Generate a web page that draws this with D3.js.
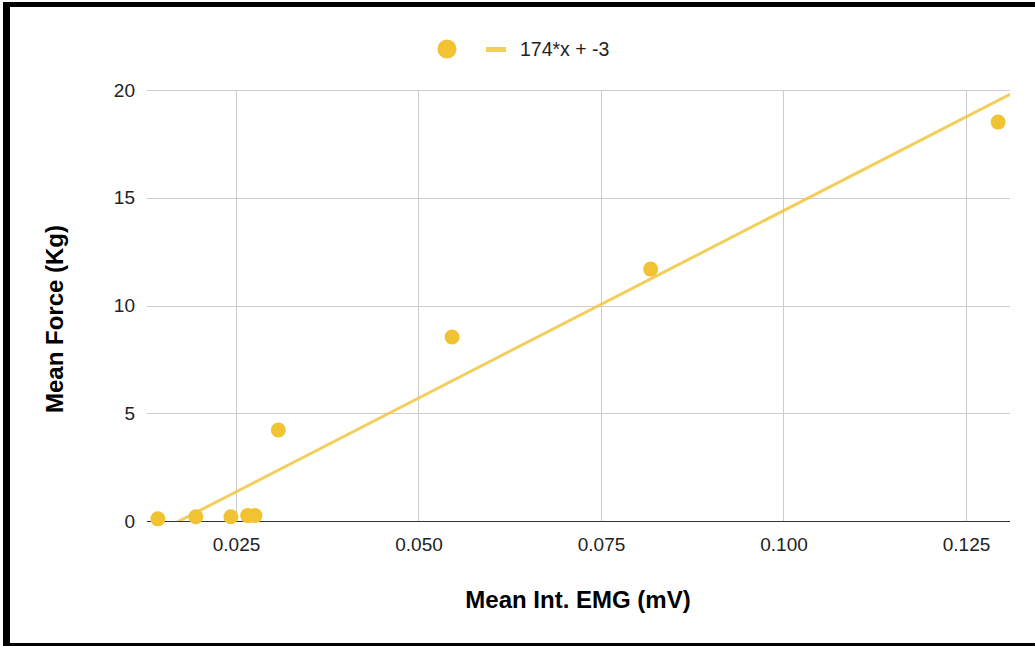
<!DOCTYPE html>
<html><head><meta charset="utf-8">
<script src="https://cdn.jsdelivr.net/npm/d3@7"></script>
<style>body{margin:0;background:#fff}svg{display:block;font-family:Arial,"Liberation Sans",sans-serif}</style>
</head><body><svg id="c" width="1035" height="646"></svg>
<script>
const emg = [0.0143, 0.0195, 0.0243, 0.0266, 0.0276, 0.0308, 0.0546, 0.0818, 0.1294];
const force = [0.1, 0.2, 0.2, 0.25, 0.25, 4.22, 8.54, 11.69, 18.51];
const xTicks = [0.025, 0.050, 0.075, 0.100, 0.125];
const yTicks = [0, 5, 10, 15, 20];
const slope = 174, intercept = -3;
const legendLabel = "174*x + -3";

const svg = d3.select("#c");
const L = 147, R = 1010, T = 90, B = 521;
const x = d3.scaleLinear().domain([0.01281, 0.13103]).range([L, R]);
const y = d3.scaleLinear().domain([0, 20]).range([B, T]);

// border
svg.append("rect").attr("x",3).attr("y",2).attr("width",1040).attr("height",5).attr("fill","#000");
svg.append("rect").attr("x",3).attr("y",2).attr("width",7).attr("height",644).attr("fill","#000");
svg.append("rect").attr("x",3).attr("y",643).attr("width",1040).attr("height",3).attr("fill","#000");

// grid
const g = svg.append("g");
g.selectAll(".hg").data(yTicks.filter(d=>d!==0)).join("line")
  .attr("x1",L).attr("x2",R).attr("y1",d=>Math.round(y(d))+0.5).attr("y2",d=>Math.round(y(d))+0.5)
  .attr("stroke","#cccccc").attr("stroke-width",1);
g.selectAll(".vg").data(xTicks).join("line")
  .attr("x1",d=>Math.round(x(d))+0.5).attr("x2",d=>Math.round(x(d))+0.5).attr("y1",T).attr("y2",B)
  .attr("stroke","#cccccc").attr("stroke-width",1);

const FF = "Arial,'Liberation Sans',sans-serif";
const yAxis = svg.append("g").attr("transform",`translate(${L},0)`)
  .call(d3.axisLeft(y).tickValues(yTicks).tickSize(0).tickPadding(12).tickFormat(d3.format("d")));
yAxis.select(".domain").remove();
yAxis.selectAll("text").attr("font-size",19).attr("fill","#222").attr("font-family",FF);

const xAxis = svg.append("g").attr("transform",`translate(0,${B})`)
  .call(d3.axisBottom(x).tickValues(xTicks).tickSize(0).tickPadding(17).tickFormat(d3.format(".3f")));
xAxis.select(".domain").remove();
xAxis.selectAll("text").attr("font-size",19).attr("fill","#222").attr("font-family",FF);

// baseline
svg.append("line").attr("x1",L).attr("x2",R).attr("y1",y(0)+0.5).attr("y2",y(0)+0.5).attr("stroke","#333").attr("stroke-width",1);

// trendline clipped
svg.append("clipPath").attr("id","clip").append("rect").attr("x",L).attr("y",T-10).attr("width",R-L).attr("height",B-T+10);
const xd = x.domain();
svg.append("line").attr("clip-path","url(#clip)")
  .attr("x1",x(xd[0])).attr("y1",y(slope*xd[0]+intercept))
  .attr("x2",x(xd[1])).attr("y2",y(slope*xd[1]+intercept))
  .attr("stroke","#f1c232").attr("stroke-opacity",0.8).attr("stroke-width",3);

// points
svg.selectAll(".pt").data(emg.map((v,i)=>[v,force[i]])).join("circle")
  .attr("cx",d=>x(d[0])).attr("cy",d=>y(d[1])).attr("r",7.5).attr("fill","#f1c232");

// legend
svg.append("circle").attr("cx",447).attr("cy",49).attr("r",9.5).attr("fill","#f1c232");
svg.append("rect").attr("x",486).attr("y",47).attr("width",20).attr("height",5).attr("fill","#f1c232").attr("opacity",0.8);
svg.append("text").attr("x",520).attr("y",56).attr("font-size",19.5).attr("fill","#222").attr("font-family",FF).text(legendLabel);

// titles
svg.append("text").attr("x",578).attr("y",608).attr("text-anchor","middle").attr("font-size",24).attr("font-weight","bold").attr("fill","#000").attr("font-family",FF).text("Mean Int. EMG (mV)");
svg.append("text").attr("transform","translate(63,319) rotate(-90)").attr("text-anchor","middle").attr("font-size",24).attr("font-weight","bold").attr("fill","#000").attr("font-family",FF).text("Mean Force (Kg)");
</script></body></html>
